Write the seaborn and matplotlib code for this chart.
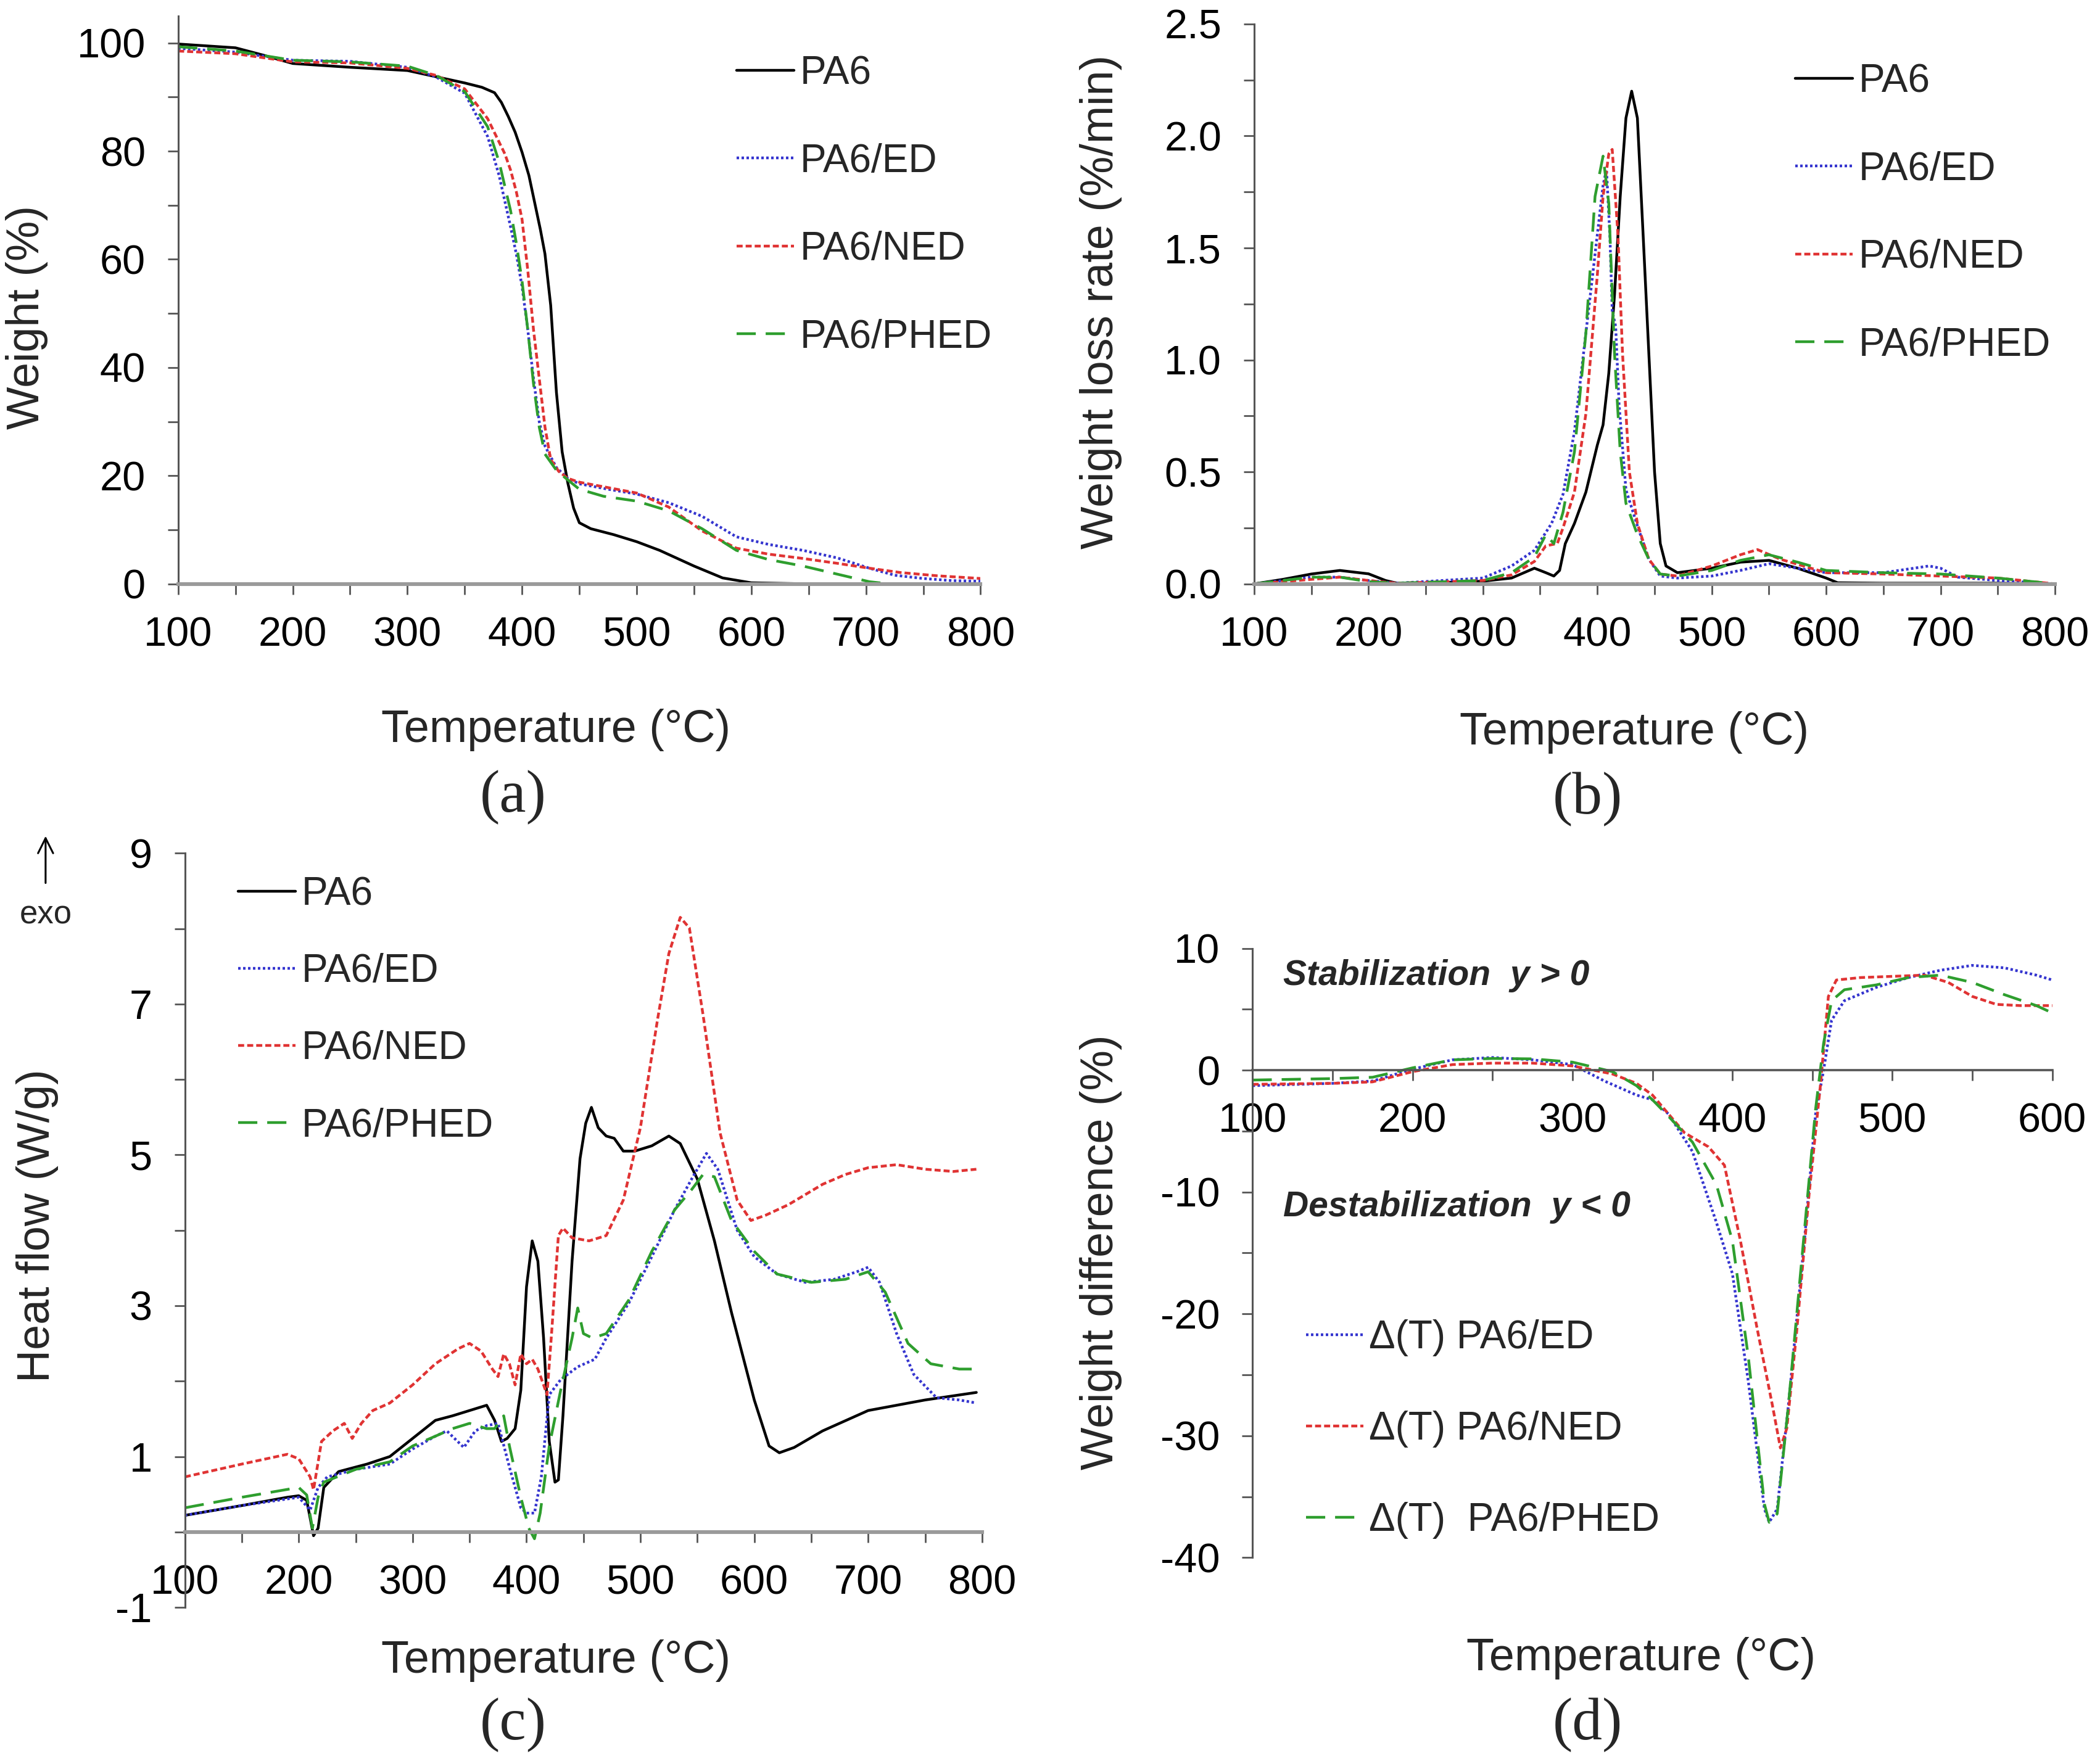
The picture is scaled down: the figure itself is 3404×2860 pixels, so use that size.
import numpy as np
import pandas as pd
import matplotlib
matplotlib.use("Agg")
import matplotlib.pyplot as plt
from matplotlib.ticker import MultipleLocator, FormatStrFormatter
import seaborn as sns

# ---------------- data ----------------
# (a) TGA weight (%)
a_T_pa6 = [100, 150, 175, 200, 250, 300, 350, 365, 376, 382, 388, 394, 400, 406, 411, 416, 420, 425, 430, 435,
           440, 445, 450, 460, 480, 500, 520, 550, 575, 600, 650, 700, 750, 800]
a_W_pa6 = [99.8, 99.1, 97.7, 96.2, 95.5, 94.9, 92.6, 91.8, 90.8, 89.0, 86.4, 83.5, 79.8, 75.5, 70.5, 65.5, 61.0, 51.5, 35.4, 24.4,
           18.6, 14.0, 11.3, 10.2, 9.1, 7.8, 6.2, 3.3, 1.1, 0.2, 0.0, 0.0, 0.0, 0.0]
a_T_ed = [100, 150, 200, 250, 300, 325, 350, 370, 380, 390, 395, 400, 405, 410, 415, 420, 430, 440, 450,
          475, 500, 528, 557, 587, 615, 645, 675, 703, 725, 750, 775, 800]
a_W_ed = [99.0, 98.3, 96.8, 96.6, 95.5, 93.7, 90.7, 82.7, 75.5, 66.0, 61.0, 55.0, 47.0, 38.0, 30.0, 25.5, 21.5, 19.5, 18.5,
          17.5, 16.6, 15.0, 12.5, 8.7, 7.3, 6.2, 4.8, 2.9, 1.6, 1.0, 0.6, 0.5]
a_T_ned = [100, 150, 200, 250, 300, 325, 350, 370, 385, 390, 395, 400, 405, 410, 415, 420, 425, 432, 440, 450,
           475, 500, 528, 557, 587, 615, 645, 675, 703, 730, 762, 800]
a_W_ned = [98.5, 98.0, 96.5, 96.3, 95.3, 94.0, 91.5, 86.0, 79.5, 76.5, 72.5, 67.4, 58.0, 47.0, 38.0, 29.0, 23.0, 20.8, 19.5, 18.8,
           17.8, 16.8, 14.2, 9.8, 6.6, 5.5, 4.7, 3.8, 2.9, 2.1, 1.5, 1.0]
a_T_phed = [100, 150, 200, 250, 300, 325, 350, 370, 380, 390, 395, 400, 405, 410, 415, 420, 430, 440, 450,
            471, 500, 528, 557, 587, 615, 645, 675, 703, 720, 800]
a_W_phed = [99.3, 98.5, 96.8, 96.5, 95.7, 94.0, 91.0, 84.5, 78.0, 69.0, 63.0, 56.0, 47.0, 37.0, 29.0, 24.0, 21.0, 19.2, 17.5,
            16.2, 15.3, 13.5, 10.2, 6.2, 4.5, 3.3, 1.8, 0.4, 0.0, 0.0]

# (b) DTG weight loss rate (%/min)
b_T_pa6 = [100, 125, 150, 175, 200, 215, 225, 250, 300, 325, 345, 355, 362, 367, 372, 380, 390, 400, 405, 410,
           415, 420, 425, 430, 435, 440, 445, 450, 455, 460, 470, 500, 525, 550, 575, 600, 610, 650, 700, 750, 800]
b_V_pa6 = [0.0, 0.02, 0.044, 0.06, 0.045, 0.015, 0.003, 0.003, 0.012, 0.026, 0.07, 0.05, 0.035, 0.06, 0.18, 0.27, 0.41, 0.62, 0.71, 0.94,
           1.29, 1.73, 2.08, 2.20, 2.08, 1.56, 1.03, 0.50, 0.18, 0.08, 0.05, 0.07, 0.097, 0.105, 0.07, 0.026, 0.005, 0.003, 0.003, 0.003, 0.0]
b_T_ed = [100, 150, 175, 200, 225, 300, 325, 345, 360, 370, 380, 390, 400, 405, 408, 411, 413, 416, 419, 425,
          435, 445, 455, 470, 500, 525, 550, 575, 600, 650, 690, 700, 715, 750, 800]
b_V_ed = [0.0, 0.03, 0.03, 0.015, 0.003, 0.026, 0.08, 0.15, 0.27, 0.40, 0.68, 1.12, 1.56, 1.78, 1.85, 1.55, 1.22, 1.15, 0.80, 0.42,
          0.26, 0.11, 0.035, 0.026, 0.035, 0.06, 0.09, 0.07, 0.05, 0.05, 0.08, 0.07, 0.03, 0.015, 0.0]
b_T_ned = [100, 150, 175, 200, 225, 300, 325, 345, 355, 365, 370, 380, 390, 400, 405, 410, 413, 418, 422, 428,
           435, 445, 455, 470, 500, 525, 540, 560, 580, 600, 650, 700, 750, 800]
b_V_ned = [0.0, 0.02, 0.03, 0.015, 0.003, 0.015, 0.04, 0.10, 0.17, 0.18, 0.25, 0.41, 0.76, 1.38, 1.73, 1.92, 1.94, 1.56, 1.03, 0.50,
           0.27, 0.11, 0.044, 0.035, 0.08, 0.13, 0.153, 0.11, 0.08, 0.05, 0.044, 0.035, 0.026, 0.0]
b_T_phed = [100, 150, 175, 200, 225, 300, 325, 345, 355, 362, 370, 380, 390, 398, 405, 410, 415, 420, 425,
            435, 445, 455, 470, 500, 525, 550, 575, 600, 650, 700, 750, 800]
b_V_phed = [0.0, 0.03, 0.03, 0.01, 0.003, 0.015, 0.05, 0.12, 0.22, 0.18, 0.32, 0.59, 1.12, 1.73, 1.91, 1.70, 1.03, 0.59, 0.36,
            0.22, 0.11, 0.044, 0.035, 0.06, 0.105, 0.13, 0.097, 0.06, 0.05, 0.044, 0.026, 0.0]

# (c) DSC heat flow (W/g)
c_T_pa6 = [100, 150, 190, 200, 207, 213, 217, 222, 235, 260, 280, 300, 320, 335, 350, 365, 372, 378, 383, 390,
           395, 400, 405, 410, 415, 420, 425, 428, 432, 440, 447, 452, 457, 463, 470, 477, 485, 495, 510, 525,
           535, 550, 565, 580, 600, 613, 622, 635, 660, 700, 750, 795]
c_H_pa6 = [0.22, 0.35, 0.46, 0.48, 0.42, -0.05, 0.05, 0.59, 0.80, 0.90, 1.0, 1.24, 1.48, 1.54, 1.61, 1.68, 1.48, 1.20, 1.24, 1.37,
           1.88, 3.25, 3.86, 3.59, 2.57, 1.20, 0.66, 0.69, 1.54, 3.59, 4.95, 5.42, 5.63, 5.36, 5.25, 5.22, 5.05, 5.05, 5.12, 5.25,
           5.15, 4.68, 3.86, 2.91, 1.75, 1.14, 1.05, 1.12, 1.34, 1.61, 1.75, 1.85]
c_T_ed = [100, 150, 200, 210, 217, 225, 250, 280, 300, 320, 330, 345, 355, 365, 375, 385, 395, 400, 407, 413,
          420, 430, 445, 460, 470, 490, 510, 530, 545, 558, 568, 585, 600, 620, 645, 670, 690, 700, 710, 725,
          740, 760, 780, 795]
c_H_ed = [0.22, 0.35, 0.46, 0.29, 0.59, 0.73, 0.83, 0.90, 1.10, 1.27, 1.34, 1.12, 1.34, 1.41, 1.44, 0.86, 0.32, 0.25, 0.25, 0.73,
          1.82, 2.02, 2.19, 2.29, 2.57, 3.04, 3.65, 4.27, 4.68, 5.02, 4.81, 4.00, 3.65, 3.42, 3.31, 3.35, 3.45, 3.51, 3.31, 2.63,
          2.09, 1.78, 1.75, 1.71]
c_T_ned = [100, 150, 190, 200, 210, 213, 220, 230, 240, 247, 255, 265, 280, 300, 320, 340, 350, 360, 370, 375,
           380, 385, 390, 395, 400, 405, 410, 415, 418, 422, 428, 432, 440, 455, 470, 485, 500, 515, 525, 535,
           543, 555, 570, 585, 597, 610, 630, 660, 680, 700, 725, 750, 775, 795]
c_H_ned = [0.73, 0.90, 1.03, 0.97, 0.73, 0.56, 1.20, 1.34, 1.44, 1.24, 1.44, 1.61, 1.71, 1.95, 2.23, 2.43, 2.50, 2.40, 2.16, 2.06,
           2.36, 2.23, 1.95, 2.36, 2.23, 2.29, 2.16, 1.95, 1.82, 2.63, 3.93, 4.03, 3.90, 3.86, 3.93, 4.40, 5.36, 6.79, 7.67, 8.15,
           8.01, 6.86, 5.29, 4.40, 4.13, 4.20, 4.34, 4.61, 4.74, 4.83, 4.87, 4.81, 4.78, 4.81]
c_T_phed = [100, 150, 200, 207, 212, 217, 222, 250, 280, 300, 320, 335, 350, 365, 372, 380, 385, 395, 402, 407,
            412, 420, 430, 440, 445, 450, 458, 470, 490, 510, 530, 545, 555, 565, 580, 600, 620, 650, 680, 700,
            715, 735, 755, 780, 795]
c_H_phed = [0.32, 0.46, 0.59, 0.49, 0.05, 0.46, 0.66, 0.83, 0.93, 1.14, 1.27, 1.37, 1.44, 1.37, 1.37, 1.54, 1.14, 0.46, 0.05, -0.09,
            0.25, 1.14, 1.88, 2.57, 2.97, 2.63, 2.57, 2.63, 3.08, 3.72, 4.27, 4.54, 4.74, 4.71, 4.13, 3.72, 3.42, 3.31, 3.35, 3.45,
            3.18, 2.50, 2.23, 2.16, 2.16]

# (d) weight difference (%)
d_T_ed = [100, 150, 175, 200, 225, 250, 275, 300, 320, 340, 350, 360, 375, 390, 400, 410, 420, 423, 428, 435,
          445, 452, 457, 462, 470, 490, 510, 530, 550, 570, 590, 600]
d_D_ed = [-1.27, -1.08, -0.89, 0.08, 0.85, 1.04, 0.85, 0.46, -0.89, -2.04, -2.43, -3.59, -6.67, -12.5, -16.7, -25.6, -36.0, -37.1, -36.0, -27.5,
          -14.0, -3.6, 0.0, 4.1, 5.7, 6.8, 7.6, 8.2, 8.6, 8.4, 7.8, 7.4]
d_T_ned = [100, 150, 175, 200, 225, 250, 275, 300, 325, 340, 350, 360, 370, 385, 395, 405, 415, 425, 430, 434,
           440, 448, 455, 460, 465, 480, 500, 520, 535, 550, 565, 580, 600]
d_D_ned = [-1.16, -1.08, -0.96, -0.12, 0.46, 0.58, 0.58, 0.35, -0.31, -1.08, -2.04, -3.59, -5.13, -6.29, -7.8, -14.0, -20.9, -27.5, -31.0, -29.4,
           -21.7, -10.1, -1.27, 6.05, 7.4, 7.6, 7.7, 7.8, 7.2, 6.05, 5.4, 5.3, 5.3]
d_T_phed = [100, 150, 175, 200, 225, 250, 275, 300, 325, 340, 350, 360, 375, 390, 400, 410, 420, 423, 428, 435,
            445, 452, 457, 462, 470, 490, 510, 530, 550, 570, 590, 600]
d_D_phed = [-0.81, -0.69, -0.58, 0.19, 0.85, 0.96, 0.93, 0.66, -0.12, -1.27, -2.43, -3.78, -5.9, -9.4, -14.0, -23.6, -35.6, -37.1, -36.4, -27.5,
            -13.2, -3.2, 2.2, 5.7, 6.6, 7.0, 7.6, 7.8, 7.2, 6.2, 5.3, 4.7]

samples = ["PA6", "PA6/ED", "PA6/NED", "PA6/PHED"]
d_labels = ["\u0394(T) PA6/ED", "\u0394(T) PA6/NED", "\u0394(T)  PA6/PHED"]

palette = {"PA6": "#000000", "PA6/ED": "#3535CF", "PA6/NED": "#E03333", "PA6/PHED": "#2E9E2E"}
dash_map = {"PA6": "", "PA6/ED": (0.9, 0.9), "PA6/NED": (2.2, 1.1), "PA6/PHED": (7.0, 3.6)}

sns.set_theme(style="ticks")
plt.rcParams["font.family"] = ["Liberation Sans", "DejaVu Sans"]
plt.rcParams["axes.unicode_minus"] = False

TICK_FS = 24
LAB_FS = 26.5
LEG_FS = 23


def long_frame(pairs):
    parts = []
    for name, t, v in pairs:
        parts.append(pd.DataFrame({"T": t, "v": v, "sample": name}))
    return pd.concat(parts, ignore_index=True)


def draw(ax, df, names):
    sns.lineplot(data=df, x="T", y="v", hue="sample", style="sample", hue_order=names,
                 style_order=names, palette=palette, dashes=dash_map, linewidth=1.6,
                 errorbar=None, legend=False, ax=ax)
    ax.set_xlabel("")
    ax.set_ylabel("")


def style_axis(ax, bottom_color="#9a9a9a", bottom_lw=2.2):
    sns.despine(ax=ax)
    ax.spines["left"].set_color("#555555")
    ax.spines["left"].set_linewidth(1.1)
    ax.spines["bottom"].set_color(bottom_color)
    ax.spines["bottom"].set_linewidth(bottom_lw)
    ax.tick_params(which="both", direction="out", length=6, width=1.0, color="#555555",
                   labelsize=TICK_FS, pad=13, labelcolor="black")


def add_legend(ax, labels, anchor, spacing):
    handles = ax.get_lines()[:len(labels)]
    ax.legend(handles, labels, loc="upper left", bbox_to_anchor=anchor, frameon=False,
              fontsize=LEG_FS, handlelength=1.45, handletextpad=0.15, labelspacing=spacing,
              borderaxespad=0, borderpad=0)


fig = plt.figure(figsize=(17.025, 14.30), dpi=200)

# ---- (a) ----
ax_a = fig.add_axes([0.0848, 0.669, 0.382, 0.322])
df_a = long_frame([("PA6", a_T_pa6, a_W_pa6), ("PA6/ED", a_T_ed, a_W_ed),
                   ("PA6/NED", a_T_ned, a_W_ned), ("PA6/PHED", a_T_phed, a_W_phed)])
draw(ax_a, df_a, samples)
ax_a.set_xlim(100, 800)
ax_a.set_ylim(0, 105)
ax_a.xaxis.set_major_locator(MultipleLocator(100))
ax_a.xaxis.set_minor_locator(MultipleLocator(50))
ax_a.yaxis.set_major_locator(MultipleLocator(20))
ax_a.yaxis.set_minor_locator(MultipleLocator(10))
style_axis(ax_a)
add_legend(ax_a, samples, (0.696, 0.931), 1.29)

# ---- (b) ----
ax_b = fig.add_axes([0.597, 0.669, 0.3813, 0.3174])
df_b = long_frame([("PA6", b_T_pa6, b_V_pa6), ("PA6/ED", b_T_ed, b_V_ed),
                   ("PA6/NED", b_T_ned, b_V_ned), ("PA6/PHED", b_T_phed, b_V_phed)])
draw(ax_b, df_b, samples)
ax_b.set_xlim(100, 800)
ax_b.set_ylim(0, 2.5)
ax_b.xaxis.set_major_locator(MultipleLocator(100))
ax_b.xaxis.set_minor_locator(MultipleLocator(50))
ax_b.yaxis.set_major_locator(MultipleLocator(0.5))
ax_b.yaxis.set_minor_locator(MultipleLocator(0.25))
ax_b.yaxis.set_major_formatter(FormatStrFormatter("%.1f"))
style_axis(ax_b)
add_legend(ax_b, samples, (0.676, 0.930), 1.29)

# ---- (c) ----
ax_c = fig.add_axes([0.088, 0.0888, 0.3795, 0.4275])
df_c = long_frame([("PA6", c_T_pa6, c_H_pa6), ("PA6/ED", c_T_ed, c_H_ed),
                   ("PA6/NED", c_T_ned, c_H_ned), ("PA6/PHED", c_T_phed, c_H_phed)])
draw(ax_c, df_c, samples)
ax_c.set_xlim(100, 800)
ax_c.set_ylim(-1, 9)
ax_c.xaxis.set_major_locator(MultipleLocator(100))
ax_c.xaxis.set_minor_locator(MultipleLocator(50))
ax_c.yaxis.set_major_locator(MultipleLocator(2, offset=1))
ax_c.yaxis.set_minor_locator(MultipleLocator(1))
style_axis(ax_c)
ax_c.spines["bottom"].set_position(("data", 0))
add_legend(ax_c, samples, (0.067, 0.970), 1.02)

# ---- (d) ----
ax_d = fig.add_axes([0.5963, 0.117, 0.3807, 0.3454])
df_d = long_frame([("PA6/ED", d_T_ed, d_D_ed), ("PA6/NED", d_T_ned, d_D_ned),
                   ("PA6/PHED", d_T_phed, d_D_phed)])
draw(ax_d, df_d, samples[1:])
ax_d.set_xlim(100, 600)
ax_d.set_ylim(-40, 10)
ax_d.xaxis.set_major_locator(MultipleLocator(100))
ax_d.xaxis.set_minor_locator(MultipleLocator(50))
ax_d.yaxis.set_major_locator(MultipleLocator(10))
ax_d.yaxis.set_minor_locator(MultipleLocator(5))
style_axis(ax_d, bottom_color="#555555", bottom_lw=1.3)
ax_d.spines["bottom"].set_position(("data", 0))
add_legend(ax_d, d_labels, (0.067, 0.391), 1.38)
ax_d.text(0.038, 0.955, "Stabilization  y > 0", transform=ax_d.transAxes, fontsize=20.5,
          fontweight="bold", style="italic", ha="left", va="center")
ax_d.text(0.038, 0.575, "Destabilization  y < 0", transform=ax_d.transAxes, fontsize=20.5,
          fontweight="bold", style="italic", ha="left", va="center")

# ---- axis titles and panel letters ----
fig.text(0.0128, 0.820, "Weight (%)", rotation=90, ha="center", va="center", fontsize=LAB_FS)
fig.text(0.2647, 0.5862, "Temperature (\u00b0C)", ha="center", va="center", fontsize=LAB_FS)
fig.text(0.5242, 0.829, "Weight loss rate (%/min)", rotation=90, ha="center", va="center", fontsize=LAB_FS)
fig.text(0.778, 0.5847, "Temperature (\u00b0C)", ha="center", va="center", fontsize=LAB_FS)
fig.text(0.0179, 0.3052, "Heat flow (W/g)", rotation=90, ha="center", va="center", fontsize=LAB_FS)
fig.text(0.2647, 0.0585, "Temperature (\u00b0C)", ha="center", va="center", fontsize=LAB_FS)
fig.text(0.5242, 0.290, "Weight difference (%)", rotation=90, ha="center", va="center", fontsize=LAB_FS)
fig.text(0.7813, 0.060, "Temperature (\u00b0C)", ha="center", va="center", fontsize=LAB_FS)

serif = ["Liberation Serif", "DejaVu Serif"]
for x, y, s in [(0.2443, 0.548, "(a)"), (0.7557, 0.5467, "(b)"),
                (0.2443, 0.022, "(c)"), (0.7557, 0.022, "(d)")]:
    fig.text(x, y, s, ha="center", va="center", fontsize=35, family=serif)

# exo arrow
fig.text(0.0217, 0.4814, "exo", ha="center", va="center", fontsize=19)
fig.add_artist(matplotlib.patches.FancyArrowPatch((0.0217, 0.4975), (0.0217, 0.528),
                                                  transform=fig.transFigure, arrowstyle="->",
                                                  mutation_scale=22, lw=1.1, color="black"))

fig.savefig("out.png", dpi=200)
